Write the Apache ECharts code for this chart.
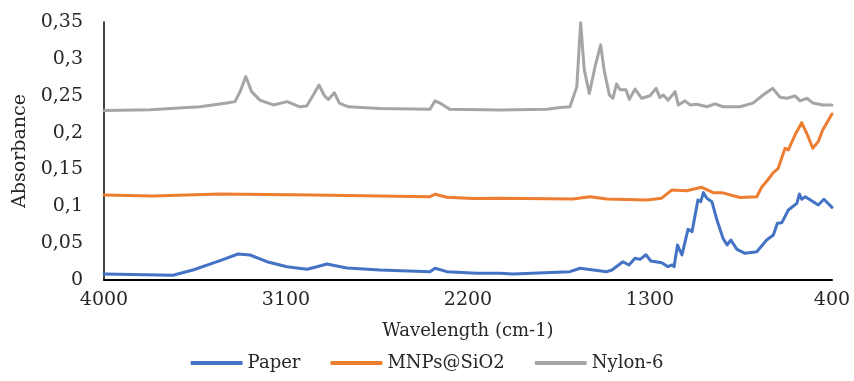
<!DOCTYPE html>
<html>
<head>
<meta charset="utf-8">
<script src="https://cdn.jsdelivr.net/npm/echarts@6/dist/echarts.min.js"></script>
<style>
  html, body { margin: 0; padding: 0; background: #fff; }
  #chart { width: 854px; height: 381px; }
</style>
</head>
<body>
<div id="chart"></div>
<script>
// wavenumber (cm-1) / absorbance pairs
var seriesNames = ['Paper', 'MNPs@SiO2', 'Nylon-6'];
var xTickLabels = [4000, 3100, 2200, 1300, 400];

var paper = [
  [4000, 0.0081], [3659, 0.0064], [3560, 0.0136], [3426, 0.0262], [3337, 0.0353], [3278, 0.0339],
  [3194, 0.0248], [3095, 0.018], [2996, 0.0145], [2947, 0.018], [2897, 0.0217], [2868, 0.020],
  [2798, 0.0163], [2635, 0.0136], [2388, 0.0113], [2363, 0.0159], [2304, 0.0113], [2156, 0.009],
  [2042, 0.009], [1978, 0.0081], [1696, 0.0113], [1646, 0.0159], [1513, 0.0113], [1488, 0.0136],
  [1434, 0.0248], [1404, 0.0204], [1374, 0.0294], [1349, 0.028], [1320, 0.0343], [1296, 0.0258],
  [1242, 0.0235], [1211, 0.018], [1191, 0.0204], [1181, 0.018], [1164, 0.0475], [1142, 0.0339],
  [1112, 0.0688], [1092, 0.0656], [1063, 0.1085], [1049, 0.1063], [1036, 0.1185], [1019, 0.1108],
  [994, 0.1063], [969, 0.0814], [939, 0.0566], [919, 0.0475], [900, 0.0543], [870, 0.0416],
  [830, 0.0362], [772, 0.0384], [723, 0.0543], [690, 0.061], [670, 0.077], [648, 0.0778],
  [616, 0.095], [574, 0.104], [561, 0.1167], [550, 0.1095], [532, 0.113], [468, 0.1018],
  [440, 0.1095], [400, 0.0986]
];

var mnps = [
  [4000, 0.1153], [3758, 0.114], [3426, 0.1167], [2967, 0.1153], [2388, 0.113], [2363, 0.1163],
  [2304, 0.1122], [2175, 0.1105], [2042, 0.111], [1681, 0.110], [1597, 0.113], [1513, 0.110],
  [1315, 0.1085], [1242, 0.111], [1193, 0.122], [1119, 0.121], [1044, 0.1258], [987, 0.1185],
  [945, 0.1185], [855, 0.112], [772, 0.113], [748, 0.1258], [723, 0.134], [690, 0.1456],
  [666, 0.1515], [632, 0.1787], [616, 0.1764], [583, 0.1967], [550, 0.2134], [525, 0.199],
  [495, 0.1787], [468, 0.1877], [446, 0.2035], [400, 0.2252]
];

var nylon = [
  [4000, 0.230], [3773, 0.231], [3525, 0.235], [3393, 0.240], [3352, 0.242], [3327, 0.2555],
  [3299, 0.276], [3270, 0.2555], [3229, 0.244], [3163, 0.2375], [3094, 0.242], [3031, 0.235],
  [2998, 0.236], [2965, 0.251], [2937, 0.2646], [2910, 0.250], [2891, 0.245], [2861, 0.254],
  [2836, 0.240], [2792, 0.235], [2635, 0.2325], [2388, 0.2315], [2363, 0.243], [2339, 0.240],
  [2289, 0.2315], [2042, 0.2307], [1809, 0.2316], [1745, 0.234], [1696, 0.235], [1662, 0.262],
  [1643, 0.349], [1625, 0.285], [1600, 0.253], [1572, 0.289], [1544, 0.319], [1527, 0.285],
  [1501, 0.251], [1484, 0.2465], [1465, 0.266], [1448, 0.258], [1419, 0.258], [1402, 0.245],
  [1374, 0.259], [1341, 0.2465], [1300, 0.25], [1270, 0.260], [1251, 0.2475], [1234, 0.251],
  [1210, 0.244], [1176, 0.2555], [1160, 0.2375], [1127, 0.243], [1102, 0.2375], [1069, 0.2385],
  [1018, 0.235], [979, 0.239], [939, 0.235], [855, 0.235], [791, 0.240], [741, 0.251],
  [693, 0.260], [657, 0.248], [623, 0.2465], [583, 0.2497], [558, 0.243], [524, 0.2465],
  [494, 0.240], [445, 0.2375], [400, 0.2375]
];

var colors = ['#4472C4', '#ED7D31', '#A5A5A5'];
var font = 'DejaVu Serif';

var chart = echarts.init(document.getElementById('chart'), null, { renderer: 'canvas' });

function line(name, data, color) {
  return {
    name: name,
    type: 'line',
    data: data,
    showSymbol: false,
    symbol: 'none',
    smooth: false,
    animation: false,
    lineStyle: { color: color, width: 3, join: 'round', cap: 'round' },
    itemStyle: { color: color }
  };
}

chart.setOption({
  backgroundColor: '#fff',
  grid: { left: 104, right: 22, top: 22, bottom: 101, outerBoundsMode: 'none' },
  legend: {
    data: seriesNames,
    bottom: 4,
    left: 'center',
    icon: 'roundRect',
    itemWidth: 52,
    itemHeight: 4,
    itemGap: 30,
    textStyle: { fontFamily: font, fontSize: 18, color: '#262626' }
  },
  xAxis: {
    type: 'value',
    inverse: true,
    min: 400,
    max: 4000,
    name: 'Wavelength (cm-1)',
    nameLocation: 'middle',
    nameGap: 42,
    nameTextStyle: { fontFamily: font, fontSize: 18, color: '#262626' },
    axisLine: { show: true, lineStyle: { color: '#000', width: 2 } },
    axisTick: { show: false },
    splitLine: { show: false },
    axisLabel: {
      customValues: xTickLabels,
      margin: 11,
      fontFamily: font,
      fontSize: 19,
      color: '#262626',
      formatter: function (v) { return String(v); }
    }
  },
  yAxis: {
    type: 'value',
    min: 0,
    max: 0.35,
    interval: 0.05,
    name: 'Absorbance',
    nameLocation: 'middle',
    nameGap: 74,
    nameTextStyle: { fontFamily: font, fontSize: 19, color: '#262626' },
    axisLine: { show: true, lineStyle: { color: '#000', width: 1.5 } },
    axisTick: { show: false },
    splitLine: { show: false },
    axisLabel: {
      margin: 21,
      fontFamily: font,
      fontSize: 19,
      color: '#262626',
      formatter: function (v) { return String(+v.toFixed(2)).replace('.', ','); }
    }
  },
  series: [
    line(seriesNames[0], paper, colors[0]),
    line(seriesNames[1], mnps, colors[1]),
    line(seriesNames[2], nylon, colors[2])
  ]
});
</script>
</body>
</html>
